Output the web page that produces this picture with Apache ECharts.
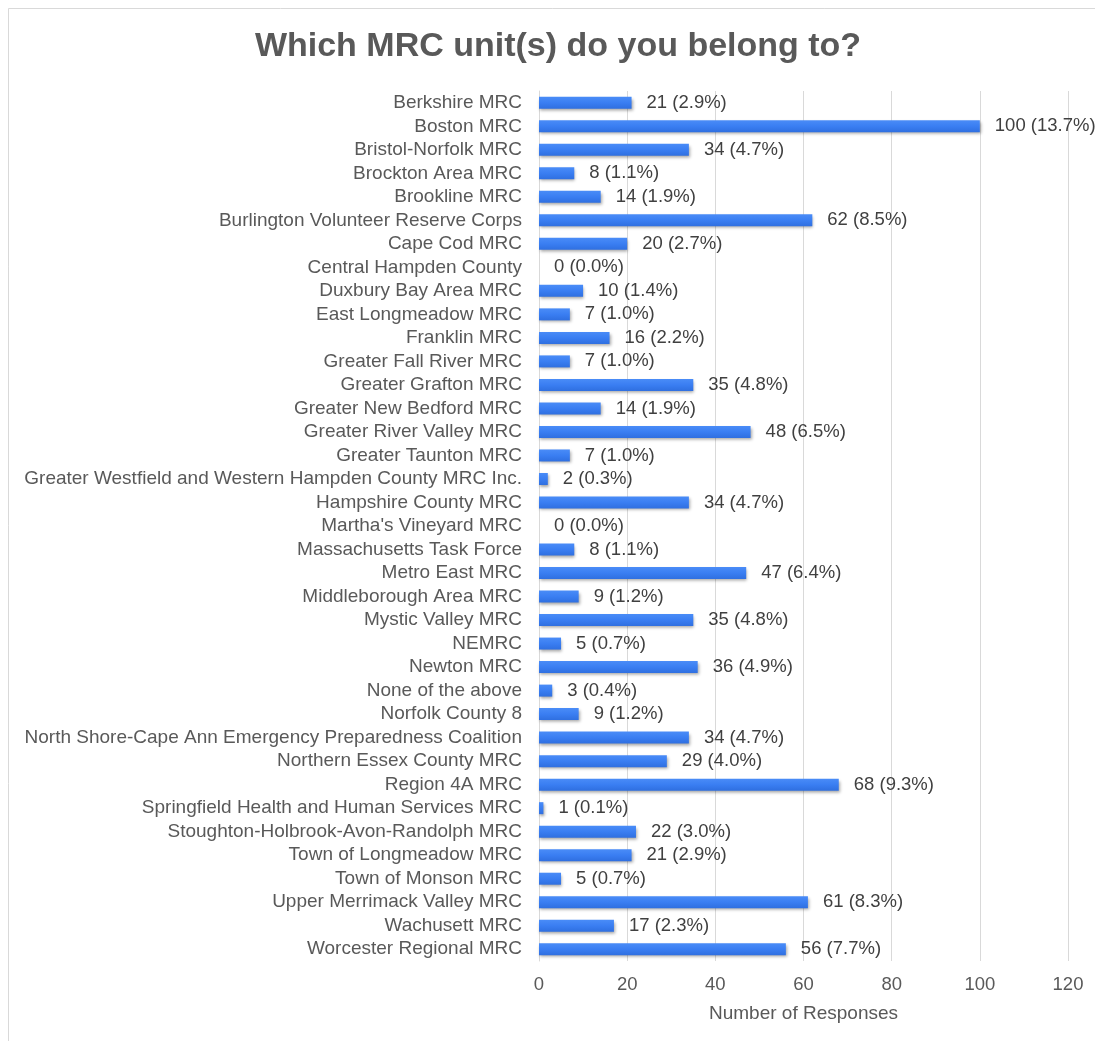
<!DOCTYPE html>
<html><head><meta charset="utf-8">
<script src="https://cdn.jsdelivr.net/npm/echarts@6/dist/echarts.min.js"></script>
<style>html,body{margin:0;padding:0;background:#fff}#c{width:1095px;height:1041px}</style>
</head><body><div id="c"></div>
<script>
const categories = ["Berkshire MRC","Boston MRC","Bristol-Norfolk MRC","Brockton Area MRC","Brookline MRC","Burlington Volunteer Reserve Corps","Cape Cod MRC","Central Hampden County","Duxbury Bay Area MRC","East Longmeadow MRC","Franklin MRC","Greater Fall River MRC","Greater Grafton MRC","Greater New Bedford MRC","Greater River Valley MRC","Greater Taunton MRC","Greater Westfield and Western Hampden County MRC Inc.","Hampshire County MRC","Martha's Vineyard MRC","Massachusetts Task Force","Metro East MRC","Middleborough Area MRC","Mystic Valley MRC","NEMRC","Newton MRC","None of the above","Norfolk County 8","North Shore-Cape Ann Emergency Preparedness Coalition","Northern Essex County MRC","Region 4A MRC","Springfield Health and Human Services MRC","Stoughton-Holbrook-Avon-Randolph MRC","Town of Longmeadow MRC","Town of Monson MRC","Upper Merrimack Valley MRC","Wachusett MRC","Worcester Regional MRC"];
const values = [21,100,34,8,14,62,20,0,10,7,16,7,35,14,48,7,2,34,0,8,47,9,35,5,36,3,9,34,29,68,1,22,21,5,61,17,56];
const percents = ["2.9%","13.7%","4.7%","1.1%","1.9%","8.5%","2.7%","0.0%","1.4%","1.0%","2.2%","1.0%","4.8%","1.9%","6.5%","1.0%","0.3%","4.7%","0.0%","1.1%","6.4%","1.2%","4.8%","0.7%","4.9%","0.4%","1.2%","4.7%","4.0%","9.3%","0.1%","3.0%","2.9%","0.7%","8.3%","2.3%","7.7%"];
const xTicks = [0,20,40,60,80,100,120];

const chart = echarts.init(document.getElementById('c'), null, {renderer:'canvas'});
const font = "'Liberation Sans', Arial, sans-serif";
chart.setOption({
  animation:false,
  backgroundColor:'#fff',
  graphic:[{type:'rect', shape:{x:8.5,y:8.5,width:1100,height:1040}, style:{fill:'none',stroke:'#d9d9d9',lineWidth:1}, silent:true}],
  title:{text:'Which MRC unit(s) do you belong to?', left:553, top:25, textAlign:'center',
    textStyle:{fontFamily:font, fontSize:34, fontWeight:'bold', color:'#595959'}},
  grid:{left:539, right:27, top:91, bottom:80, containLabel:false},
  xAxis:{type:'value', min:xTicks[0], max:xTicks[xTicks.length-1], interval:20,
    name:'Number of Responses', nameLocation:'middle', nameGap:43,
    nameTextStyle:{fontFamily:font, fontSize:19, color:'#595959'},
    axisLine:{show:false}, axisTick:{show:false},
    axisLabel:{fontFamily:font, fontSize:18.5, color:'#595959', margin:14},
    splitLine:{lineStyle:{color:'#d9d9d9', width:1}}},
  yAxis:{type:'category', data:categories, inverse:true,
    axisLine:{show:true, lineStyle:{color:'#d9d9d9'}}, axisTick:{show:false},
    axisLabel:{fontFamily:font, fontSize:19, color:'#595959', margin:17, interval:0}},
  series:[{type:'bar', data:values, barWidth:12,
    itemStyle:{color:new echarts.graphic.LinearGradient(0,0,0,1,[{offset:0,color:'#4a8cf7'},{offset:0.5,color:'#3a7ef2'},{offset:1,color:'#2f6fe0'}]),
      shadowColor:'rgba(0,0,0,0.35)', shadowBlur:3, shadowOffsetX:1, shadowOffsetY:2},
    label:{show:true, position:'right', distance:15, fontFamily:font, fontSize:18.5, color:'#404040',
      formatter:p=>p.value+' ('+percents[p.dataIndex]+')'}}]
});
</script></body></html>
